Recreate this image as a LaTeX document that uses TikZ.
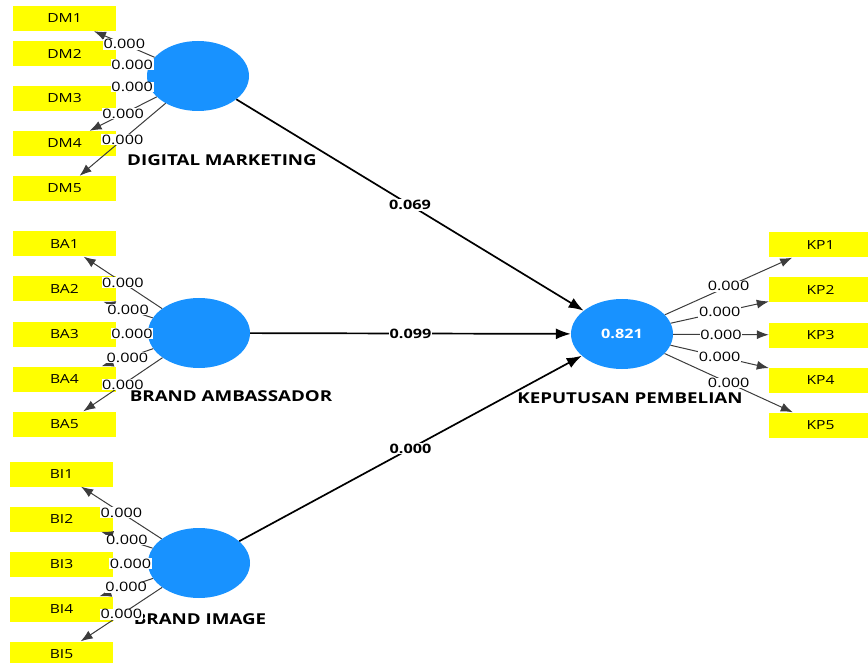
\documentclass[tikz,border=0pt]{standalone}
\usepackage{fontspec}
\setmainfont{Open Sans}[FakeStretch=1.25]
\usetikzlibrary{arrows.meta, shapes.geometric}
\definecolor{lvblue}{RGB}{24,146,255}
\definecolor{mvyellow}{RGB}{255,255,0}
\definecolor{loadgray}{RGB}{60,60,60}

\begin{document}
\begin{tikzpicture}[x=1pt, y=-1pt,
mv/.style={fill=mvyellow, minimum width=103pt, minimum height=25pt, inner sep=0pt,
font=\fontsize{12.5}{14}\selectfont},
lv/.style={ellipse, fill=lvblue, minimum width=102pt, minimum height=70pt, inner sep=0pt,
text=white, font=\bfseries\fontsize{13}{15}\selectfont},
lvname/.style={font=\bfseries\fontsize{15}{18}\selectfont},
load/.style={fill=white, inner sep=0.6pt, font=\fontsize{13}{15}\selectfont},
coef/.style={fill=white, inner sep=1pt, font=\bfseries\fontsize{13}{15}\selectfont},
]
\useasboundingbox (0,0) rectangle (868,663);

% indicators
\path
(64.5,18.5) node[mv] (dm1) {DM1}
(64.5,53.5) node[mv] (dm2) {DM2}
(64.5,98.5) node[mv] (dm3) {DM3}
(64.5,143.5) node[mv] (dm4) {DM4}
(64.5,188.5) node[mv] (dm5) {DM5}
(64.5,244) node[mv] (ba1) {BA1}
(64.5,289) node[mv] (ba2) {BA2}
(64.5,334) node[mv] (ba3) {BA3}
(64.5,379) node[mv] (ba4) {BA4}
(64.5,424) node[mv] (ba5) {BA5}
(61.5,474) node[mv] (bi1) {BI1}
(61.5,519) node[mv] (bi2) {BI2}
(61.5,564) node[mv] (bi3) {BI3}
(61.5,609) node[mv] (bi4) {BI4}
(61.5,654) node[mv] (bi5) {BI5}
(820.5,245) node[mv] (kp1) {KP1}
(820.5,290) node[mv] (kp2) {KP2}
(820.5,335) node[mv] (kp3) {KP3}
(820.5,380) node[mv] (kp4) {KP4}
(820.5,425) node[mv] (kp5) {KP5}
;

% constructs
\path
(198,76) node[lv] (dm) {}
(199,333) node[lv] (ba) {}
(199,563) node[lv] (bi) {}
(622,334) node[lv] (kp) {0.821}
(222,160) node[lvname] (dmname) {DIGITAL MARKETING}
(231,396) node[lvname] (baname) {BRAND AMBASSADOR}
(200,619) node[lvname] (biname) {BRAND IMAGE}
(630,398) node[lvname] (kpname) {KEPUTUSAN PEMBELIAN}
;

% outer loadings
\begin{scope}[-{Latex[length=12pt, width=9pt]}, draw=loadgray, line width=1pt]
\draw (dm) -- (dm1);
\draw (dm) -- (dm2);
\draw (dm) -- (dm3);
\draw (dm) -- (dm4);
\draw (dm) -- (dm5);
\draw (ba) -- (ba1);
\draw (ba) -- (ba2);
\draw (ba) -- (ba3);
\draw (ba) -- (ba4);
\draw (ba) -- (ba5);
\draw (bi) -- (bi1);
\draw (bi) -- (bi2);
\draw (bi) -- (bi3);
\draw (bi) -- (bi4);
\draw (bi) -- (bi5);
\draw (kp) -- (kp1);
\draw (kp) -- (kp2);
\draw (kp) -- (kp3);
\draw (kp) -- (kp4);
\draw (kp) -- (kp5);
\end{scope}

% inner model
\begin{scope}[-{Latex[length=15pt, width=11pt]}, line width=1.7pt]
\draw (dm) -- (kp);
\draw (ba) -- (kp);
\draw (bi) -- (kp);
\end{scope}

% values
\path (dm) -- node[load] {0.000} (dm1);
\path (dm) -- node[load] {0.000} (dm2);
\path (dm) -- node[load] {0.000} (dm3);
\path (dm) -- node[load] {0.000} (dm4);
\path (dm) -- node[load] {0.000} (dm5);
\path (ba) -- node[load] {0.000} (ba1);
\path (ba) -- node[load] {0.000} (ba2);
\path (ba) -- node[load] {0.000} (ba3);
\path (ba) -- node[load] {0.000} (ba4);
\path (ba) -- node[load] {0.000} (ba5);
\path (bi) -- node[load] {0.000} (bi1);
\path (bi) -- node[load] {0.000} (bi2);
\path (bi) -- node[load] {0.000} (bi3);
\path (bi) -- node[load] {0.000} (bi4);
\path (bi) -- node[load] {0.000} (bi5);
\path (kp) -- node[load] {0.000} (kp1);
\path (kp) -- node[load] {0.000} (kp2);
\path (kp) -- node[load] {0.000} (kp3);
\path (kp) -- node[load] {0.000} (kp4);
\path (kp) -- node[load] {0.000} (kp5);
\path (dm) -- node[coef] {0.069} (kp);
\path (ba) -- node[coef] {0.099} (kp);
\path (bi) -- node[coef] {0.000} (kp);

\end{tikzpicture}
\end{document}
